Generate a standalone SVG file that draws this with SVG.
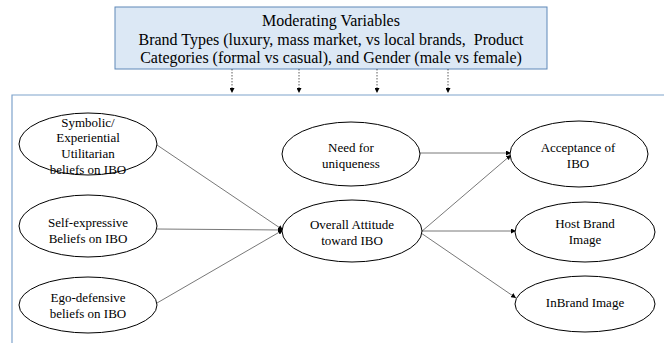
<svg xmlns="http://www.w3.org/2000/svg" width="664" height="343" viewBox="0 0 664 343">
<style>
text{font-family:"Liberation Serif","Times New Roman",serif;fill:#000;text-anchor:middle}
.t{font-size:16px}
.n{font-size:13px}
ellipse{fill:#fff;stroke:#000;stroke-width:1}
.c{stroke:#555;stroke-width:0.8;fill:none;marker-end:url(#ah)}
.d{stroke:#333;stroke-width:0.8;stroke-dasharray:1.5 1.5;fill:none;marker-end:url(#ah)}
</style>
<defs>
<marker id="ah" viewBox="0 0 10 10" refX="10" refY="5" markerWidth="5" markerHeight="5" markerUnits="userSpaceOnUse" orient="auto"><path d="M0,0L10,5L0,10z" fill="#000"/></marker>
</defs>
<rect width="664" height="343" fill="#fff"/>
<g id="moderating">
<rect x="115" y="7" width="432" height="62" fill="#dce8f5" stroke="#5e88b8" stroke-width="1"/>
<text class="t" x="331" y="26">Moderating Variables</text>
<text class="t" x="331" y="45">Brand Types (luxury, mass market, vs local brands,&#160; Product</text>
<text class="t" x="331" y="63">Categories (formal vs casual), and Gender (male vs female)</text>
</g>
<g id="frame">
<path d="M12,343V95H664" fill="none" stroke="#7fa3cc" stroke-width="1.2"/>
</g>
<g id="connectors">
<line class="d" x1="232" y1="69" x2="232" y2="93"/>
<line class="d" x1="299" y1="69" x2="299" y2="93"/>
<line class="d" x1="377" y1="69" x2="377" y2="93"/>
<line class="d" x1="448" y1="69" x2="448" y2="93"/>
<line class="c" x1="157" y1="145" x2="283" y2="230"/>
<line class="c" x1="157" y1="229" x2="283" y2="230"/>
<line class="c" x1="157" y1="303" x2="283" y2="230"/>
<line class="c" x1="420" y1="153" x2="511" y2="153"/>
<line class="c" x1="421" y1="232" x2="511" y2="155"/>
<line class="c" x1="421" y1="231" x2="516" y2="231"/>
<line class="c" x1="421" y1="233" x2="516" y2="298"/>
</g>
<g id="symbolic">
<ellipse cx="88" cy="144" rx="69" ry="31"/>
<text class="n" x="88" y="127">Symbolic/</text>
<text class="n" x="88" y="142">Experiential</text>
<text class="n" x="88" y="158">Utilitarian</text>
<text class="n" x="88" y="174">beliefs on IBO</text>
</g>
<g id="selfexpressive">
<ellipse cx="88" cy="226" rx="69" ry="31"/>
<text class="n" x="88" y="227">Self-expressive</text>
<text class="n" x="88" y="243">Beliefs on IBO</text>
</g>
<g id="egodefensive">
<ellipse cx="88" cy="305" rx="69" ry="28"/>
<text class="n" x="88" y="302">Ego-defensive</text>
<text class="n" x="88" y="318">beliefs on IBO</text>
</g>
<g id="uniqueness">
<ellipse cx="351" cy="154" rx="69" ry="32"/>
<text class="n" x="351" y="152">Need for</text>
<text class="n" x="351" y="168">uniqueness</text>
</g>
<g id="attitude">
<ellipse cx="352" cy="231" rx="70" ry="31"/>
<text class="n" x="352" y="229">Overall Attitude</text>
<text class="n" x="352" y="245">toward IBO</text>
</g>
<g id="acceptance">
<ellipse cx="579" cy="154" rx="69" ry="33"/>
<text class="n" x="578" y="152">Acceptance of</text>
<text class="n" x="578" y="168">IBO</text>
</g>
<g id="hostbrand">
<ellipse cx="585" cy="232" rx="70" ry="30"/>
<text class="n" x="585" y="228">Host Brand</text>
<text class="n" x="585" y="244">Image</text>
</g>
<g id="inbrand">
<ellipse cx="585" cy="304" rx="70" ry="28"/>
<text class="n" x="585" y="307">InBrand Image</text>
</g>
</svg>
